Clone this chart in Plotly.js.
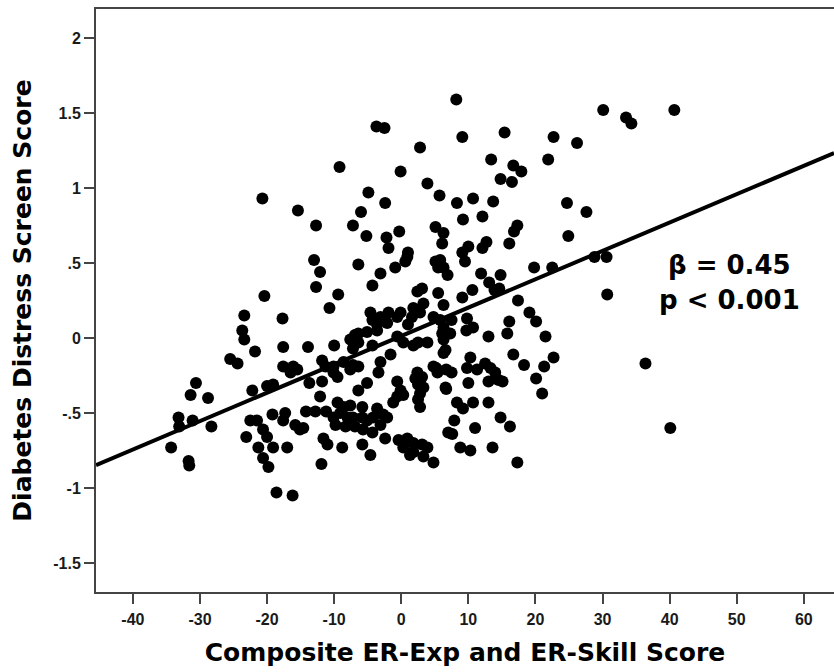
<!DOCTYPE html>
<html>
<head>
<meta charset="utf-8">
<script src="https://cdn.plot.ly/plotly-3.0.1.min.js"></script>
<style>html,body{margin:0;padding:0;background:#fff;}#chart{width:834px;height:672px;}</style>
</head>
<body>
<div id="chart"></div>
<script>
// Composite ER-Exp and ER-Skill Score (x) vs Diabetes Distress Screen Score (y)
const erScore = [
-34.3,-31.7,-31.6,-33.2,-33.1,-31.1,-30.6,-31.4,-28.8,-28.3,
-25.5,-24.4,-23.7,-23.4,-23.4,-21.8,-23.1,-22.2,-22.5,-21.5,
-21.3,-20.6,-20.0,-20.6,-19.8,-19.2,-19.1,-20.7,-20.4,-17.7,
-17.6,-20.0,-19.1,-17.6,-16.1,-16.5,-15.5,-17.3,-17.6,-17.0,
-15.8,-15.1,-18.6,-16.2,-15.4,-13.9,-10.0,-14.6,-13.7,-14.2,
-12.8,-12.1,-11.8,-11.3,-10.1,-11.8,-9.5,-11.2,-11.6,-11.0,
-11.9,-9.5,-8.6,-7.6,-10.1,-9.1,-8.0,-7.2,-9.8,-8.3,
-8.8,-8.6,-7.2,-7.6,-6.4,-6.9,-6.4,-7.2,-7.6,-4.3,
-5.1,-3.6,-3.1,-1.6,-3.4,-5.1,-6.4,-5.8,-5.8,-5.1,
-4.2,-3.6,-2.7,-2.1,-6.9,-5.7,-3.1,-0.6,-1.2,-5.8,
-4.6,-4.3,-2.4,-0.4,-0.6,-0.1,0.3,-0.6,-12.7,-7.2,
-6.0,-4.9,-2.4,-5.2,-2.2,-1.9,-0.3,-13.0,-12.1,-6.4,
-3.1,-4.3,-0.9,-12.7,-9.4,-10.7,-3.7,-2.5,-9.2,-0.1,
-4.6,-4.3,-3.1,-1.9,-0.6,-3.6,-2.1,-6.4,0.9,1.0,
0.6,0.3,1.8,2.5,3.9,6.1,6.3,2.4,2.1,3.1,
2.5,3.3,2.8,2.5,2.8,4.8,5.4,6.6,0.9,1.8,
0.3,1.8,3.1,3.9,3.3,1.3,4.8,7.0,1.8,2.8,
1.6,-0.1,3.1,2.4,5.5,3.3,6.3,4.8,5.8,6.3,
3.9,5.7,5.1,6.3,6.1,5.1,5.8,6.3,5.5,6.9,
2.8,8.2,1.0,6.3,6.6,7.3,5.2,6.7,7.5,6.7,
8.3,7.6,7.9,7.5,8.8,9.1,15.4,22.7,26.2,13.4,
21.9,16.7,17.9,14.8,16.5,8.3,10.7,13.7,24.7,27.6,
9.2,12.1,24.9,17.3,16.8,16.1,12.7,12.1,10.0,9.1,
9.5,11.9,14.8,19.8,22.5,28.8,30.6,30.7,9.1,10.6,
13.1,13.9,14.6,17.4,19.1,20.1,16.1,9.8,9.7,10.7,
13.0,15.8,21.5,16.7,18.3,21.3,22.7,20.1,21.0,10.3,
9.8,11.3,12.5,13.3,14.0,14.5,13.0,15.1,10.0,9.2,
10.7,13.0,14.8,16.2,11.0,10.3,13.6,17.3,36.4,40.1,
30.1,33.5,34.3,40.7,-10.1
];
const distress = [
-0.73,-0.82,-0.85,-0.53,-0.59,-0.55,-0.30,-0.38,-0.40,-0.59,
-0.14,-0.17,0.05,-0.01,0.15,-0.09,-0.66,-0.35,-0.55,-0.55,
-0.73,-0.61,-0.66,-0.80,-0.86,-0.51,-0.73,0.93,0.28,0.13,
-0.06,-0.32,-0.31,-0.19,-0.19,-0.23,-0.21,-0.50,-0.55,-0.73,
-0.58,-0.61,-1.03,-1.05,0.85,-0.06,-0.05,-0.60,-0.30,-0.49,
-0.49,-0.39,-0.15,-0.19,-0.19,-0.29,-0.26,-0.49,-0.67,-0.71,
-0.84,-0.43,-0.46,-0.45,-0.53,-0.50,-0.53,-0.53,-0.58,-0.59,
-0.73,-0.16,-0.18,-0.21,-0.19,0.02,-0.03,-0.07,-0.01,-0.05,
0.04,0.05,-0.16,-0.11,-0.23,-0.30,-0.35,-0.46,-0.53,-0.55,
-0.53,-0.47,-0.51,-0.53,-0.59,-0.61,-0.58,-0.39,-0.43,-0.71,
-0.78,-0.63,-0.67,-0.68,-0.29,-0.35,-0.38,0.01,0.75,0.75,
0.84,0.97,0.90,0.68,0.67,0.60,0.71,0.52,0.44,0.49,
0.43,0.35,0.47,0.34,0.29,0.20,1.41,1.40,1.14,1.11,
0.17,0.12,0.14,0.17,0.14,0.09,0.10,0.03,0.54,0.57,
0.51,-0.03,-0.05,-0.03,-0.03,0.03,-0.10,-0.23,-0.27,-0.26,
-0.31,-0.33,-0.37,-0.41,-0.46,-0.19,-0.23,-0.33,-0.67,-0.70,
-0.73,-0.76,-0.71,-0.73,-0.79,-0.78,-0.83,-0.63,0.20,0.17,
0.14,0.17,0.33,0.31,0.30,0.23,0.22,0.14,0.12,0.07,
1.03,0.95,0.74,0.70,0.63,0.51,0.52,0.47,0.47,0.42,
1.27,1.59,0.09,-0.01,-0.08,0.03,-0.20,-0.21,-0.23,-0.34,
-0.43,-0.64,-0.55,0.12,-0.73,1.34,1.37,1.34,1.30,1.19,
1.19,1.15,1.11,1.06,1.04,0.90,0.93,0.91,0.90,0.84,
0.79,0.81,0.68,0.75,0.71,0.63,0.64,0.60,0.61,0.57,
0.51,0.43,0.42,0.47,0.47,0.54,0.54,0.29,0.27,0.32,
0.37,0.32,0.33,0.25,0.17,0.11,0.11,0.13,0.05,0.07,
0.01,0.03,0.01,-0.11,-0.18,-0.19,-0.13,-0.27,-0.37,-0.13,
-0.20,-0.21,-0.17,-0.20,-0.23,-0.28,-0.29,-0.29,-0.30,-0.47,
-0.43,-0.43,-0.53,-0.59,-0.60,-0.75,-0.73,-0.83,-0.17,-0.60,
1.52,1.47,1.43,1.52,-0.23
];
// Regression line end points
const fitX = [-45.5, 64.5];
const fitY = [-0.847, 1.233];
const xTicks = [-40,-30,-20,-10,0,10,20,30,40,50,60];
const yTicks = [-1.5,-1,-0.5,0,0.5,1,1.5,2];
const yTickText = ['-1.5','-1','-.5','0','.5','1','1.5','2'];
const statLines = ['\u03B2 = 0.45', 'p < 0.001'];

const tickFont = {family: 'Liberation Sans, Arial, sans-serif', size: 16, weight: 'bold', color: '#1a1a1a'};
const titleFont = {family: 'DejaVu Sans, sans-serif', size: 25, weight: 'bold', color: '#000'};

const data = [
  {x: erScore, y: distress, type: 'scatter', mode: 'markers',
   marker: {color: '#000', size: 12, line: {width: 0}}, hoverinfo: 'skip', showlegend: false},
  {x: fitX, y: fitY, type: 'scatter', mode: 'lines',
   line: {color: '#000', width: 4}, hoverinfo: 'skip', showlegend: false}
];

const layout = {
  width: 834, height: 672,
  margin: {l: 96, r: 0, t: 9, b: 80},
  paper_bgcolor: '#fff', plot_bgcolor: '#fff',
  xaxis: {
    range: [-45.5, 64.5], tickvals: xTicks, ticktext: xTicks.map(String),
    showgrid: false, zeroline: false, showline: true, mirror: true,
    linecolor: '#444', linewidth: 2, ticks: 'outside', ticklen: 10, tickwidth: 2, tickcolor: '#444',
    tickfont: tickFont, ticklabelstandoff: 2, automargin: false,
    title: {text: 'Composite ER-Exp and ER-Skill Score', font: titleFont, standoff: 16}
  },
  yaxis: {
    range: [-1.693, 2.193], tickvals: yTicks, ticktext: yTickText,
    showgrid: false, zeroline: false, showline: true, mirror: false,
    linecolor: '#444', linewidth: 2, ticks: 'outside', ticklen: 10, tickwidth: 2, tickcolor: '#444',
    tickfont: tickFont, automargin: false,
    title: {text: 'Diabetes Distress Screen Score', font: titleFont, standoff: 14}
  },
  annotations: [
    {text: statLines[0], xref: 'paper', yref: 'paper', x: 0.859, y: 0.561, xanchor: 'center', yanchor: 'middle', showarrow: false,
     font: {family: 'DejaVu Sans, sans-serif', size: 26, weight: 'bold', color: '#000'}},
    {text: statLines[1], xref: 'paper', yref: 'paper', x: 0.859, y: 0.501, xanchor: 'center', yanchor: 'middle', showarrow: false,
     font: {family: 'DejaVu Sans, sans-serif', size: 26, weight: 'bold', color: '#000'}}
  ]
};

Plotly.newPlot('chart', data, layout, {displayModeBar: false, staticPlot: true});
</script>
</body>
</html>
